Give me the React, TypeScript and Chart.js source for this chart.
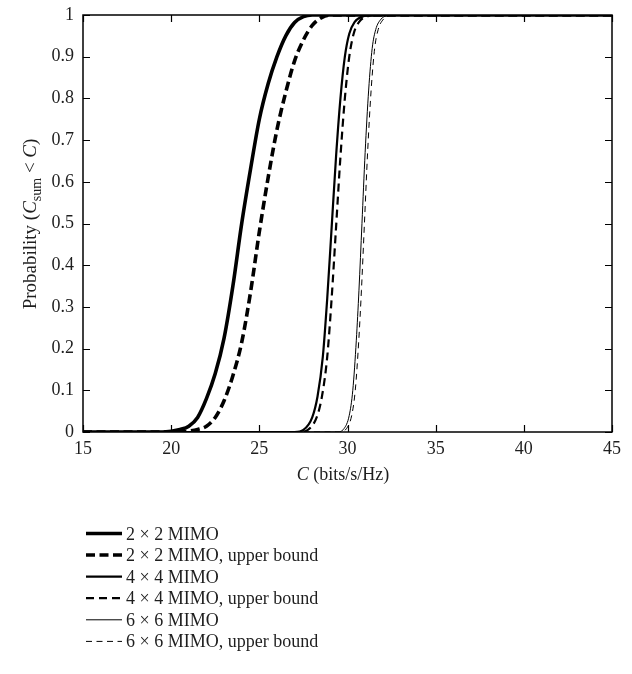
import React, { useEffect, useRef } from "react";
import { Chart, registerables } from "chart.js";

Chart.register(...registerables);

// ---- data ----
const seriesLabels = [
  "2 × 2 MIMO",
  "2 × 2 MIMO, upper bound",
  "4 × 4 MIMO",
  "4 × 4 MIMO, upper bound",
  "6 × 6 MIMO",
  "6 × 6 MIMO, upper bound",
];

const cap2x2 = [15, 19.5, 20, 20.5, 21, 21.5, 22, 22.5, 23, 23.5, 24, 24.5, 25, 25.5, 26, 26.5, 27, 27.5, 28, 45];
const prob2x2 = [0, 0, 0.002, 0.006, 0.014, 0.035, 0.08, 0.14, 0.225, 0.35, 0.5, 0.63, 0.75, 0.835, 0.9, 0.95, 0.982, 0.996, 1, 1];

const cap2x2Ub = [15, 20.5, 21, 21.5, 22, 22.5, 23, 23.5, 24, 24.5, 25, 25.5, 26, 26.5, 27, 27.5, 28, 28.5, 29, 45];
const prob2x2Ub = [0, 0, 0.002, 0.006, 0.014, 0.035, 0.075, 0.135, 0.215, 0.335, 0.48, 0.61, 0.725, 0.815, 0.89, 0.94, 0.975, 0.993, 1, 1];

const cap4x4 = [15, 27.0, 27.5, 28.0, 28.3, 28.6, 28.85, 29.1, 29.35, 29.6, 29.85, 30.1, 30.4, 30.9, 31.5, 45];
const prob4x4 = [0, 0, 0.005, 0.035, 0.085, 0.18, 0.32, 0.49, 0.66, 0.8, 0.9, 0.955, 0.983, 0.997, 1, 1];

const cap4x4Ub = [15, 27.25, 27.75, 28.25, 28.55, 28.85, 29.1, 29.35, 29.6, 29.85, 30.1, 30.35, 30.65, 31.15, 31.75, 45];
const prob4x4Ub = [0, 0, 0.005, 0.035, 0.085, 0.18, 0.32, 0.49, 0.66, 0.8, 0.9, 0.955, 0.983, 0.997, 1, 1];

const cap6x6 = [15, 29.4, 29.8, 30.1, 30.3, 30.5, 30.65, 30.82, 31.0, 31.2, 31.4, 31.6, 31.9, 32.2, 32.6, 45];
const prob6x6 = [0, 0, 0.008, 0.04, 0.1, 0.22, 0.34, 0.5, 0.67, 0.82, 0.92, 0.965, 0.99, 0.998, 1, 1];

const cap6x6Ub = [15, 29.54, 29.94, 30.24, 30.44, 30.64, 30.79, 30.96, 31.14, 31.34, 31.54, 31.74, 32.04, 32.34, 32.74, 45];
const prob6x6Ub = [0, 0, 0.008, 0.04, 0.1, 0.22, 0.34, 0.5, 0.67, 0.82, 0.92, 0.965, 0.99, 0.998, 1, 1];

const xTickValues = [15, 20, 25, 30, 35, 40, 45];
const yTickValues = [0, 0.1, 0.2, 0.3, 0.4, 0.5, 0.6, 0.7, 0.8, 0.9, 1];

// ---- styles ----
const FONT = "'Liberation Serif', 'Times New Roman', serif";
const TEXT = "#1e1e1e";
const widths = [3.6, 3.6, 2.2, 2.2, 1.0, 1.0];
const dashes: number[][] = [[], [9, 4.5], [], [8, 5], [], [6, 4.5]];

const zip = (xs: number[], ys: number[]) => xs.map((x, i) => ({ x, y: ys[i] }));
const seriesData = [
  zip(cap2x2, prob2x2),
  zip(cap2x2Ub, prob2x2Ub),
  zip(cap4x4, prob4x4),
  zip(cap4x4Ub, prob4x4Ub),
  zip(cap6x6, prob6x6),
  zip(cap6x6Ub, prob6x6Ub),
];

const framePlugin = {
  id: "frame",
  beforeDatasetsDraw(chart: any) {
    const { ctx, chartArea: a, scales } = chart;
    ctx.save();
    ctx.strokeStyle = "#000";
    ctx.lineWidth = 1.5;
    ctx.setLineDash([]);
    ctx.strokeRect(a.left, a.top, a.right - a.left, a.bottom - a.top);
    ctx.lineWidth = 1.2;
    const tl = 7;
    ctx.beginPath();
    for (const v of xTickValues) {
      const px = Math.round(scales.x.getPixelForValue(v)) + 0.5;
      ctx.moveTo(px, a.bottom);
      ctx.lineTo(px, a.bottom - tl);
      ctx.moveTo(px, a.top);
      ctx.lineTo(px, a.top + tl);
    }
    for (const v of yTickValues) {
      const py = Math.round(scales.y.getPixelForValue(v)) + 0.5;
      ctx.moveTo(a.left, py);
      ctx.lineTo(a.left + tl, py);
      ctx.moveTo(a.right, py);
      ctx.lineTo(a.right - tl, py);
    }
    ctx.stroke();
    ctx.restore();
  },
};

type Piece = { t: string; italic?: boolean; sub?: boolean };

function drawPieces(ctx: CanvasRenderingContext2D, pieces: Piece[], size: number) {
  const fontFor = (p: Piece) =>
    `${p.italic ? "italic " : ""}${p.sub ? Math.round(size * 0.72) : size}px ${FONT}`;
  let total = 0;
  for (const p of pieces) {
    ctx.font = fontFor(p);
    total += ctx.measureText(p.t).width;
  }
  let x = -total / 2;
  for (const p of pieces) {
    ctx.font = fontFor(p);
    ctx.fillText(p.t, x, p.sub ? size * 0.25 : 0);
    x += ctx.measureText(p.t).width;
  }
}

const textPlugin = {
  id: "texts",
  afterDraw(chart: any) {
    const { ctx } = chart;
    ctx.save();
    ctx.fillStyle = TEXT;
    ctx.textBaseline = "alphabetic";
    ctx.textAlign = "left";

    // y-axis title
    ctx.save();
    ctx.translate(36, 224);
    ctx.rotate(-Math.PI / 2);
    drawPieces(
      ctx,
      [
        { t: "Probability (" },
        { t: "C", italic: true },
        { t: "sum", sub: true },
        { t: " < " },
        { t: "C", italic: true },
        { t: ")" },
      ],
      19
    );
    ctx.restore();

    // x-axis title
    ctx.save();
    ctx.translate(343, 480);
    drawPieces(ctx, [{ t: "C", italic: true }, { t: " (bits/s/Hz)" }], 18);
    ctx.restore();

    // legend
    const rows = [533.5, 555, 576.6, 598.2, 619.8, 641.4];
    seriesLabels.forEach((label, i) => {
      const y = rows[i];
      ctx.save();
      ctx.strokeStyle = "#000";
      ctx.lineWidth = widths[i];
      ctx.setLineDash(dashes[i]);
      ctx.beginPath();
      ctx.moveTo(86, y);
      ctx.lineTo(122, y);
      ctx.stroke();
      ctx.restore();
      ctx.font = `18px ${FONT}`;
      ctx.fillStyle = TEXT;
      ctx.fillText(label, 126, y + 6);
    });
    ctx.restore();
  },
};

export default function App() {
  const ref = useRef<HTMLCanvasElement>(null);

  useEffect(() => {
    const canvas = ref.current;
    if (!canvas) return;
    const chart = new Chart(canvas, {
      type: "line",
      data: {
        datasets: seriesData.map((d, i) => ({
          label: seriesLabels[i],
          data: d,
          borderColor: "#000",
          backgroundColor: "#000",
          borderWidth: widths[i],
          borderDash: dashes[i],
          pointRadius: 0,
          fill: false,
          cubicInterpolationMode: "monotone" as const,
        })),
      },
      options: {
        animation: false,
        responsive: false,
        maintainAspectRatio: false,
        devicePixelRatio: 1,
        layout: { padding: { top: 15, right: 20, left: 0, bottom: 0 } },
        plugins: {
          legend: { display: false },
          tooltip: { enabled: false },
          title: { display: false },
        },
        scales: {
          x: {
            type: "linear",
            min: 15,
            max: 45,
            grid: { display: false, drawTicks: false },
            border: { display: false },
            afterFit: (s: any) => {
              s.height = 242;
              s.paddingLeft = 0;
              s.paddingRight = 0;
            },
            afterBuildTicks: (s: any) => {
              s.ticks = xTickValues.map((v) => ({ value: v }));
            },
            ticks: {
              padding: 6,
              maxRotation: 0,
              autoSkip: false,
              color: TEXT,
              font: { family: FONT, size: 18 },
              callback: (v: any) => String(v),
            },
          },
          y: {
            type: "linear",
            min: 0,
            max: 1,
            grid: { display: false, drawTicks: false },
            border: { display: false },
            afterFit: (s: any) => {
              s.width = 83;
              s.paddingTop = 0;
              s.paddingBottom = 0;
            },
            afterBuildTicks: (s: any) => {
              s.ticks = yTickValues.map((v) => ({ value: v }));
            },
            ticks: {
              padding: 9,
              autoSkip: false,
              color: TEXT,
              font: { family: FONT, size: 18 },
              callback: (v: any) => {
                const n = Number(v);
                return n === 0 || n === 1 ? String(n) : n.toFixed(1);
              },
            },
          },
        },
      },
      plugins: [framePlugin, textPlugin],
    });
    return () => chart.destroy();
  }, []);

  return (
    <div style={{ position: "absolute", left: 0, top: 0, width: 632, height: 674, background: "#fff" }}>
      <canvas ref={ref} width={632} height={674} style={{ width: 632, height: 674, display: "block" }} />
    </div>
  );
}
